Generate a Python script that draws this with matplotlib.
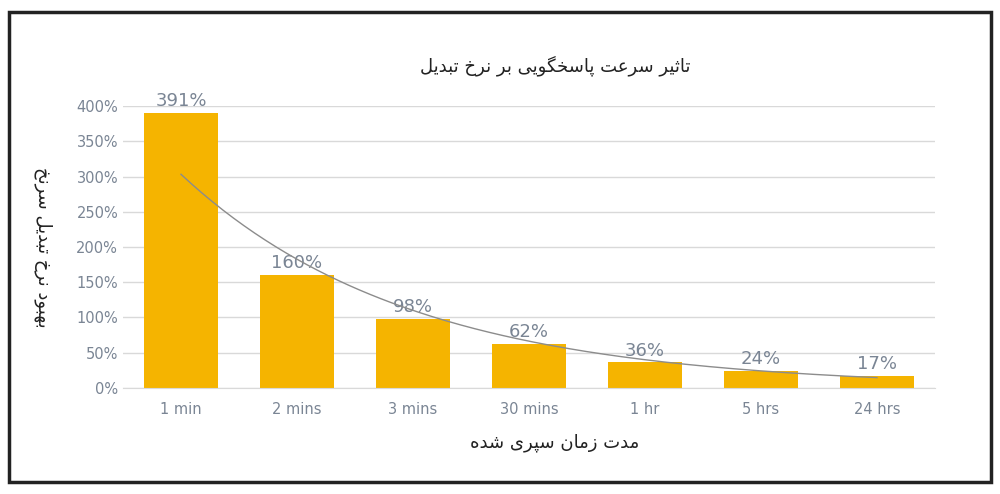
import numpy as np
import matplotlib.pyplot as plt
from matplotlib.patches import Rectangle

categories = ['1 min', '2 mins', '3 mins', '30 mins', '1 hr', '5 hrs', '24 hrs']
values = [391, 160, 98, 62, 36, 24, 17]
title = 'تاثیر سرعت پاسخگویی بر نرخ تبدیل'
ylabel = 'بهبود نرخ تبدیل سرنخ'
xlabel = 'مدت زمان سپری شده'

# isolated, final, initial, medial presentation forms
FORMS = {
    'ا': ('\uFE8D', '\uFE8E', None, None),
    'ب': ('\uFE8F', '\uFE90', '\uFE91', '\uFE92'),
    'پ': ('\uFB56', '\uFB57', '\uFB58', '\uFB59'),
    'ت': ('\uFE95', '\uFE96', '\uFE97', '\uFE98'),
    'ث': ('\uFE99', '\uFE9A', '\uFE9B', '\uFE9C'),
    'ح': ('\uFEA1', '\uFEA2', '\uFEA3', '\uFEA4'),
    'خ': ('\uFEA5', '\uFEA6', '\uFEA7', '\uFEA8'),
    'د': ('\uFEA9', '\uFEAA', None, None),
    'ر': ('\uFEAD', '\uFEAE', None, None),
    'ز': ('\uFEAF', '\uFEB0', None, None),
    'س': ('\uFEB1', '\uFEB2', '\uFEB3', '\uFEB4'),
    'ش': ('\uFEB5', '\uFEB6', '\uFEB7', '\uFEB8'),
    'ع': ('\uFEC9', '\uFECA', '\uFECB', '\uFECC'),
    'گ': ('\uFB92', '\uFB93', '\uFB94', '\uFB95'),
    'ل': ('\uFEDD', '\uFEDE', '\uFEDF', '\uFEE0'),
    'م': ('\uFEE1', '\uFEE2', '\uFEE3', '\uFEE4'),
    'ن': ('\uFEE5', '\uFEE6', '\uFEE7', '\uFEE8'),
    'ه': ('\uFEE9', '\uFEEA', '\uFEEB', '\uFEEC'),
    'و': ('\uFEED', '\uFEEE', None, None),
    'ی': ('\uFBFC', '\uFBFD', '\uFBFE', '\uFBFF'),
}


def shape(text):
    out = []
    for i, ch in enumerate(text):
        if ch not in FORMS:
            out.append(ch)
            continue
        prev = text[i - 1] if i > 0 else ' '
        nxt = text[i + 1] if i + 1 < len(text) else ' '
        join_prev = prev in FORMS and FORMS[prev][2] is not None
        join_next = nxt in FORMS and FORMS[ch][2] is not None
        iso, fin, ini, med = FORMS[ch]
        if join_prev and join_next:
            out.append(med)
        elif join_prev:
            out.append(fin)
        elif join_next:
            out.append(ini)
        else:
            out.append(iso)
    return ''.join(out)[::-1]


plt.rcParams['font.family'] = ['DejaVu Sans']
fig = plt.figure(figsize=(10, 4.94), dpi=100)
ax = fig.add_axes([0.123, 0.215, 0.812, 0.57])

x = np.arange(len(categories))
ax.bar(x, values, width=0.63, color='#F5B400', zorder=2)
for xi, v in zip(x, values):
    ax.text(xi, v + 4, f'{v}%', ha='center', va='bottom', fontsize=13, color='#7a8594', zorder=3)

# exponential trendline
b, a = np.polyfit(x + 1, np.log(values), 1)
xs = np.linspace(0, 6, 200)
ax.plot(xs, np.exp(a + b * (xs + 1)), color='#8c8c8c', lw=1, zorder=3)

ax.set_ylim(0, 400)
ax.set_xlim(-0.5, 6.5)
ax.set_yticks(range(0, 401, 50))
ax.set_yticklabels([f'{t}%' for t in range(0, 401, 50)])
ax.set_xticks(x)
ax.set_xticklabels(categories)
ax.tick_params(colors='#7a8594', labelsize=10.5, length=0)
ax.tick_params(axis='x', pad=10)
ax.grid(axis='y', color='#d9d9d9', lw=1, zorder=0)
for s in ['top', 'right', 'left']:
    ax.spines[s].set_visible(False)
ax.spines['bottom'].set_color('#d9d9d9')

fig.text(0.555, 0.855, shape(title), ha='center', fontsize=13, color='#222222')
fig.text(0.555, 0.095, shape(xlabel), ha='center', fontsize=13, color='#222222')
fig.text(0.043, 0.5, shape(ylabel), va='center', ha='center', rotation=270, fontsize=13, color='#222222')

fig.patches.append(Rectangle((0.009, 0.025), 0.982, 0.95, transform=fig.transFigure,
                             fill=False, ec='#222222', lw=2.5))
fig.savefig('out.png', dpi=100)
